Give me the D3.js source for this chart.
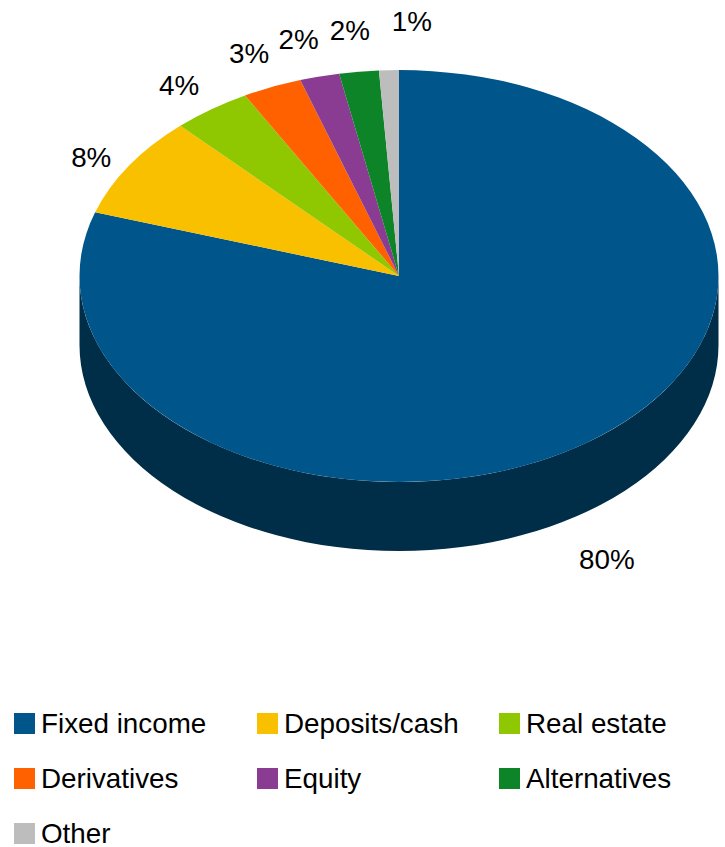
<!DOCTYPE html>
<html>
<head>
<meta charset="utf-8">
<title>Portfolio allocation</title>
<script src="https://cdn.jsdelivr.net/npm/d3@7/dist/d3.min.js"></script>
<style>
  html, body { margin: 0; padding: 0; background: #fff; }
  svg { display: block; }
  text { font-family: "Liberation Sans", Arial, sans-serif; fill: #000; }
</style>
</head>
<body>
<svg id="chart" width="725" height="847"></svg>
<script>
// Allocation shares, listed clockwise starting from twelve o'clock.
const categories = ["Fixed income", "Deposits/cash", "Real estate", "Derivatives", "Equity", "Alternatives", "Other"];
const shares = [80, 8, 4, 3, 2, 2, 1];
const topColors = ["#00568a", "#f9c000", "#8fc800", "#ff6000", "#8a3b92", "#0c8427", "#bdbdbd"];

// Layout of the tilted disc.
const width = 725, height = 847;
const cx = 399, cy = 276, rx = 319.5, ry = 206, depth = 69;
const fontSize = 27.8;

// Nudges from each slice's rim point to its percentage label.
const labelNudgeX = [20, -38, -32, -23, -21, -9, 23];
const labelNudgeY = [48, -8, -24, -33, -37, -41, -49];

// Legend grid.
const legendCols = [14, 257, 499];
const legendRows = [713, 768, 823];
const swatch = 21;

const svg = d3.select("#chart").attr("viewBox", [0, 0, width, height]);

const slices = d3.pie().value((d, i) => shares[i]).sort(null)(categories);

// Circular arcs squashed into an ellipse by the group transform.
const arc = d3.arc().innerRadius(0).outerRadius(rx);
const squash = ry / rx;

const rimPoint = a => [cx + rx * Math.sin(a), cy - ry * Math.cos(a)];

// Side wall: the part of each slice's rim that faces the viewer.
const wall = svg.append("g");
slices.forEach(s => {
  const a0 = Math.max(s.startAngle, Math.PI / 2);
  const a1 = Math.min(s.endAngle, Math.PI * 3 / 2);
  if (a1 <= a0) return;
  const [x0, y0] = rimPoint(a0);
  const [x1, y1] = rimPoint(a1);
  const large = a1 - a0 > Math.PI ? 1 : 0;
  wall.append("path")
    .attr("d", `M${x0},${y0} A${rx},${ry} 0 ${large} 1 ${x1},${y1} ` +
               `L${x1},${y1 + depth} A${rx},${ry} 0 ${large} 0 ${x0},${y0 + depth} Z`)
    .attr("fill", "#002d47");
});

// Top face.
svg.append("g")
  .attr("transform", `translate(${cx},${cy}) scale(1,${squash})`)
  .selectAll("path")
  .data(slices)
  .join("path")
  .attr("d", arc)
  .attr("fill", (d, i) => topColors[i]);

// Percentage labels.
svg.append("g")
  .selectAll("text")
  .data(slices)
  .join("text")
  .attr("x", (d, i) => rimPoint((d.startAngle + d.endAngle) / 2)[0] + labelNudgeX[i])
  .attr("y", (d, i) => {
    const mid = (d.startAngle + d.endAngle) / 2;
    return rimPoint(mid)[1] + (Math.cos(mid) < 0 ? depth : 0) + labelNudgeY[i];
  })
  .attr("text-anchor", "middle")
  .attr("dominant-baseline", "central")
  .attr("font-size", fontSize)
  .text((d, i) => shares[i] + "%");

// Legend, three entries per row.
const entry = svg.append("g")
  .selectAll("g")
  .data(categories)
  .join("g")
  .attr("transform", (d, i) => `translate(${legendCols[i % 3]},${legendRows[Math.floor(i / 3)]})`);

entry.append("rect")
  .attr("width", swatch)
  .attr("height", swatch)
  .attr("fill", (d, i) => topColors[i]);

entry.append("text")
  .attr("x", 27)
  .attr("y", 20)
  .attr("font-size", fontSize)
  .text(d => d);
</script>
</body>
</html>
